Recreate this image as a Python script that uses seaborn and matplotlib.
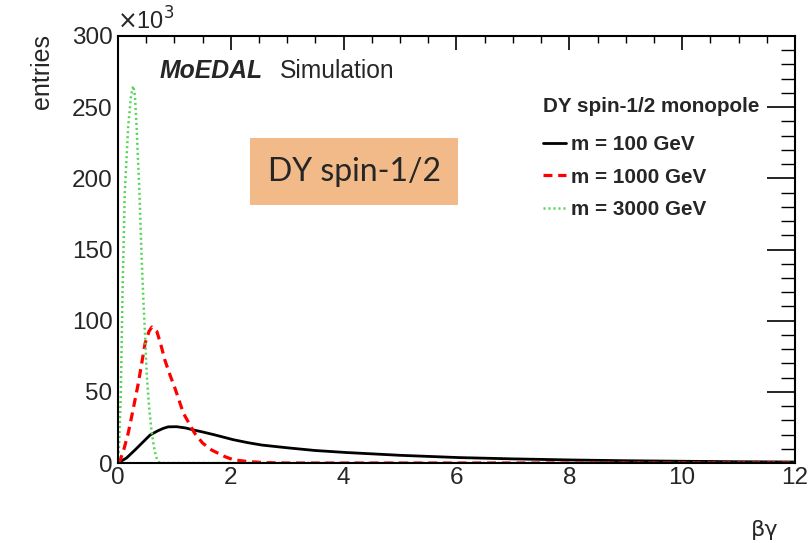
import numpy as np
import pandas as pd
import matplotlib
matplotlib.use("Agg")
import matplotlib.pyplot as plt
import seaborn as sns
from matplotlib.ticker import MultipleLocator
from matplotlib.patches import Rectangle

# ---- data (entries in units of 10^3) ----
bg_100 = [0, 0.15, 0.30, 0.45, 0.57, 0.70, 0.80, 0.89, 1.04, 1.20, 1.34, 1.50, 1.72, 2.04, 2.30, 2.55, 3.02, 3.49, 4.03, 5.0, 6.05, 7.0, 8.07, 9.0, 10.08, 11.0, 12.0]
n_100 = [0, 3.5, 9.1, 15.0, 19.7, 22.5, 24.3, 25.4, 25.5, 24.6, 23.2, 21.8, 19.7, 16.4, 14.3, 12.6, 10.6, 8.8, 7.4, 5.4, 3.8, 2.9, 2.1, 1.6, 1.2, 0.9, 0.7]

bg_1000 = [0, 0.03, 0.10, 0.18, 0.27, 0.36, 0.48, 0.55, 0.60, 0.69, 0.76, 0.83, 0.92, 1.01, 1.16, 1.36, 1.50, 1.66, 1.90, 2.04, 2.30, 2.60, 3.0, 12.0]
n_1000 = [0, 1.0, 9.0, 20.8, 38.0, 56.0, 84.0, 92.5, 95.5, 92.3, 83.0, 72.4, 62.0, 52.5, 34.9, 20.8, 14.0, 9.1, 4.4, 2.3, 1.0, 0.3, 0, 0]

bg_3000 = [0, 0.02, 0.05, 0.08, 0.12, 0.18, 0.23, 0.27, 0.30, 0.33, 0.38, 0.42, 0.45, 0.48, 0.51, 0.55, 0.59, 0.63, 0.67, 0.71, 0.75, 12.0]
n_3000 = [0, 14, 49, 119, 190, 236, 258, 265, 258, 236, 190, 143, 114, 90, 62, 40, 24, 13, 5, 1, 0, 0]

labels = ["m = 100 GeV", "m = 1000 GeV", "m = 3000 GeV"]
legend_title = "DY spin-1/2 monopole"
box_text = "DY spin-1/2"

W, H = 812, 543
sns.set_style("white")
plt.rcParams["font.family"] = ["Liberation Sans", "DejaVu Sans"]

fig = plt.figure(figsize=(W / 100, H / 100), dpi=100)
ax = fig.add_axes([118 / W, 1 - 463 / H, (795 - 118) / W, (463 - 36) / H])

df100 = pd.DataFrame({"x": bg_100, "y": n_100})
df1000 = pd.DataFrame({"x": bg_1000, "y": n_1000})
df3000 = pd.DataFrame({"x": bg_3000, "y": n_3000})

sns.lineplot(data=df100, x="x", y="y", ax=ax, color="black", lw=2.0, label=labels[0], sort=True)
sns.lineplot(data=df1000, x="x", y="y", ax=ax, color="#ff0000", lw=2.3, label=labels[1], sort=True)
sns.lineplot(data=df3000, x="x", y="y", ax=ax, color="#55d455", lw=1.8, label=labels[2], sort=True)
ax.lines[1].set_dashes([2.8, 1.8])
ax.lines[2].set_dashes([0.8, 1.2])

ax.set_xlim(0, 12)
ax.set_ylim(0, 300)
ax.xaxis.set_major_locator(MultipleLocator(2))
ax.xaxis.set_minor_locator(MultipleLocator(0.5))
ax.yaxis.set_major_locator(MultipleLocator(50))
ax.yaxis.set_minor_locator(MultipleLocator(10))
ax.tick_params(which="both", direction="in", top=True, right=True, color="black", labelsize=17.5)
ax.tick_params(axis="x", which="major", length=10, width=1.2, pad=3)
ax.tick_params(axis="x", which="minor", length=5, width=1.0)
ax.tick_params(axis="y", which="major", length=20, width=1.2, pad=4)
ax.tick_params(axis="y", which="minor", length=10, width=1.0)
for s in ax.spines.values():
    s.set_linewidth(1.5)
    s.set_color("black")
ax.set_xlabel("")
ax.set_ylabel("")

# axis titles
fig.text(779 / W, 1 - 530 / H, "βγ", ha="right", va="center", fontsize=16, family=["DejaVu Sans"])
fig.text(42 / W, 1 - 34 / H, "entries", rotation=90, ha="center", va="top", fontsize=18)
fig.text(117 / W, 1 - 30 / H, r"$\times$10$^{3}$", ha="left", va="baseline", fontsize=17)

# MoEDAL label
ax.text(160 / W, 1 - 71 / H, "MoEDAL", transform=fig.transFigure, fontsize=17.8,
        fontweight="bold", fontstyle="italic", va="center", ha="left")
ax.text(280 / W, 1 - 71 / H, "Simulation", transform=fig.transFigure, fontsize=17.7,
        va="center", ha="left")

# legend header
fig.text(543 / W, 1 - 107 / H, legend_title, ha="left", va="center", fontsize=14.9, fontweight="bold")

# legend
leg = ax.legend(loc="upper left", bbox_to_anchor=(543 / W, 1 - 135 / H), bbox_transform=fig.transFigure,
                frameon=False, fontsize=14.9, handlelength=1.1,
                handletextpad=0.25, labelspacing=0.66, borderpad=0, borderaxespad=0)
for t in leg.get_texts():
    t.set_fontweight("bold")

# orange box
fig.patches.append(Rectangle((250 / W, 1 - 205 / H), 208 / W, 67 / H, transform=fig.transFigure,
                             facecolor="#f1ba88", edgecolor="none", zorder=5))
fig.text(355 / W, 1 - 172 / H, box_text, ha="center", va="center", fontsize=23,
         family=["Lato", "DejaVu Sans"], zorder=6)

fig.savefig("out.png", dpi=100)
